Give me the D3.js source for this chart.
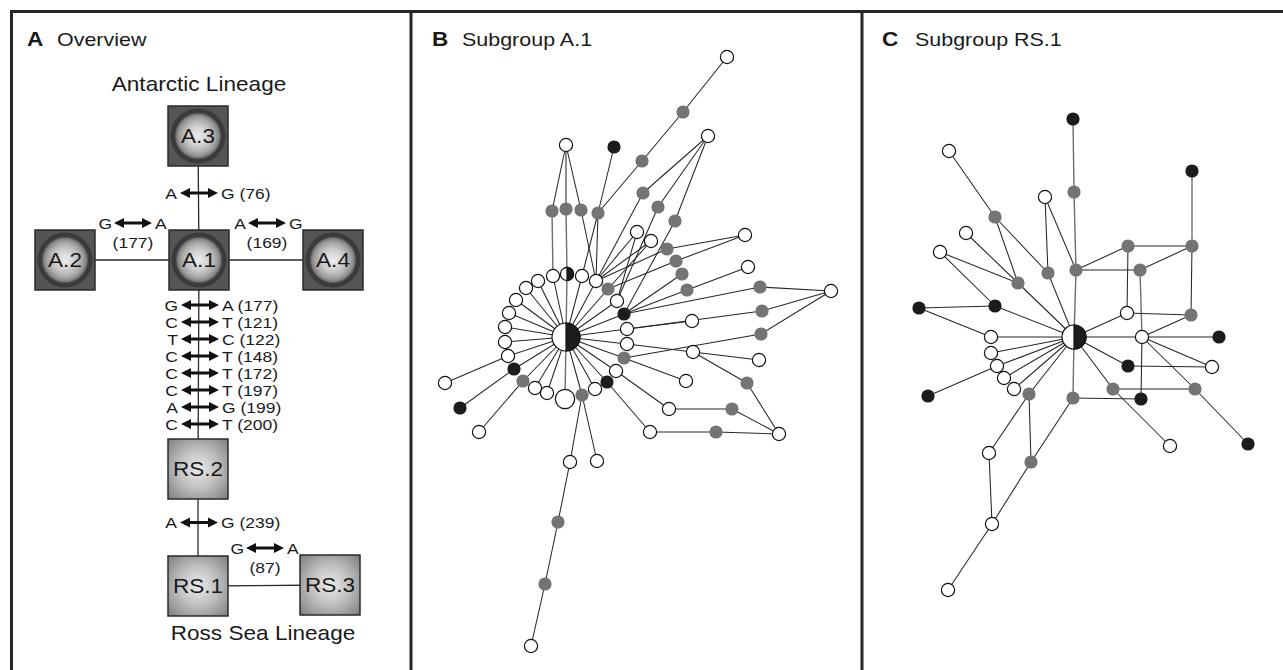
<!DOCTYPE html>
<html>
<head>
<meta charset="utf-8">
<script src="https://cdn.jsdelivr.net/npm/d3@7"></script>
<style>
  body { margin: 0; background: #fff; }
  svg { display: block; font-family: "Liberation Sans", Arial, sans-serif; }
</style>
</head>
<body>
<svg id="fig" width="1283" height="670"></svg>
<script>
// ---- panel A : overview (positions relative to A.1) ----
const overviewNodes = [
  ["A.3", -1, -124, "ring"],
  ["A.2", -134, 0, "ring"],
  ["A.1", 0, 0, "ring"],
  ["A.4", 134, 0, "ring"],
  ["RS.2", -1, 209, "grad"],
  ["RS.1", -1, 326, "grad"],
  ["RS.3", 131, 325, "grad"]
];
const mutA3A1 = [["A", "G", "76"]];
const mutA2A1 = [["G", "A", "177"]];
const mutA1A4 = [["A", "G", "169"]];
const mutA1RS2 = [["G", "A", "177"], ["C", "T", "121"], ["T", "C", "122"], ["C", "T", "148"],
                  ["C", "T", "172"], ["C", "T", "197"], ["A", "G", "199"], ["C", "T", "200"]];
const mutRS2RS1 = [["A", "G", "239"]];
const mutRS1RS3 = [["G", "A", "87"]];
const overviewLinks = [
  ["A.3", "A.1", mutA3A1],
  ["A.2", "A.1", mutA2A1],
  ["A.1", "A.4", mutA1A4],
  ["A.1", "RS.2", mutA1RS2],
  ["RS.2", "RS.1", mutRS2RS1],
  ["RS.1", "RS.3", mutRS1RS3]
];

// ---- panel B : subgroup A.1 (offsets from the central haplotype) ----
// [id, dx, dy, kind, count]  kind: w white, g grey, b black, h half
const bNodes = [
  ["c", 0, 0, "h", 4],
  ["R1", -13, -61, "w"], ["R2", 1, -63, "h"], ["R3", 16, -61, "w"], ["R4", 30, -56, "w"],
  ["R5", 42, -48, "g"], ["R6", 51, -36, "w"], ["R7", 58, -23, "b"], ["R8", 61, -8, "w"],
  ["R9", 61, 7, "w"], ["R10", 58, 21, "g"], ["R11", 50, 34, "w"], ["R12", 41, 45, "b"],
  ["R13", 29, 52, "w"], ["R14", 16, 58, "g"], ["R15", -1, 62, "w", 2], ["R16", -19, 56, "w"],
  ["R17", -31, 51, "w"], ["R18", -43, 44, "g"], ["R19", -52, 32, "b"], ["R20", -58, 19, "w"],
  ["R21", -61, 5, "w"], ["R22", -61, -10, "w"], ["R23", -57, -24, "w"], ["R24", -50, -37, "w"],
  ["R25", -40, -49, "w"], ["R26", -28, -56, "w"],
  ["O1", -121, 46, "w"], ["O2", -106, 71, "b"], ["O3", -87, 95, "w"], ["O4", 4, 125, "w"],
  ["O5", 31, 124, "w"], ["O6", -8, 185, "g"], ["O7", -21, 247, "g"], ["O8", -35, 309, "w"],
  ["T1", 0, -192, "w"], ["T2", -14, -126, "g"], ["T3", 0, -128, "g"], ["T4", 15, -127, "g"],
  ["T5", 32, -124, "g"], ["T6", 48, -190, "b"], ["T7", 76, -176, "g"], ["T8", 117, -225, "g"],
  ["T9", 161, -280, "w"], ["T10", 142, -201, "w"], ["T11", 77, -144, "g"], ["T12", 92, -130, "g"],
  ["T13", 109, -116, "g"],
  ["U1", 71, -105, "w"], ["U2", 85, -96, "w"], ["U3", 101, -88, "g"], ["U4", 110, -76, "g"],
  ["U5", 116, -63, "g"], ["U6", 121, -47, "g"], ["U7", 179, -102, "w"], ["U8", 182, -70, "w"],
  ["U9", 194, -50, "g"], ["U10", 265, -46, "w"], ["U11", 196, -26, "g"], ["U12", 195, -3, "g"],
  ["U13", 126, -16, "w"], ["U14", 127, 15, "w"], ["U15", 193, 23, "w"], ["U16", 181, 46, "g"],
  ["U17", 120, 44, "w"], ["U18", 103, 72, "w"], ["U19", 166, 72, "g"], ["U20", 84, 95, "w"],
  ["U21", 150, 95, "g"], ["U22", 213, 97, "w"]
];
const bRing = ["R1", "R2", "R3", "R4", "R5", "R6", "R7", "R8", "R9", "R10", "R11", "R12", "R13",
               "R14", "R15", "R16", "R17", "R18", "R19", "R20", "R21", "R22", "R23", "R24", "R25", "R26"];
const bLinks = [
  ["R20", "O1"], ["R19", "O2"], ["R18", "O3"], ["R14", "O4"], ["R14", "O5"], ["O4", "O6"],
  ["O6", "O7"], ["O7", "O8"],
  ["T1", "T2"], ["T1", "T3"], ["T1", "T4"], ["T2", "R1"], ["T3", "R2"], ["T4", "R4"],
  ["T5", "R4"], ["T5", "R3"], ["T6", "T5"], ["T5", "T7"], ["T7", "T8"], ["T8", "T9"],
  ["T10", "T11"], ["T10", "T12"], ["T10", "T13"], ["T11", "R4"], ["T12", "R6"], ["T13", "R7"],
  ["U1", "R4"], ["U1", "R6"], ["U2", "R4"], ["U2", "R5"],
  ["U3", "R4"], ["U3", "U7"], ["U4", "R5"], ["U4", "U7"], ["U5", "R7"], ["U6", "R7"], ["U6", "U8"],
  ["U9", "R7"], ["U9", "U10"], ["U11", "R8"], ["U11", "U10"], ["U13", "R8"], ["U12", "R10"],
  ["U12", "U10"], ["U14", "R9"], ["U14", "U15"], ["U14", "U16"], ["U16", "U22"], ["U17", "R10"],
  ["U18", "R11"], ["U18", "U19"], ["U19", "U22"], ["U20", "R12"], ["U20", "U21"], ["U21", "U22"]
];

// ---- panel C : subgroup RS.1 ----
const cNodes = [
  ["c", 0, 0, "h", 3],
  ["C1", -1, -218, "b"], ["C2", 0, -145, "g"], ["C3", 2, -67, "g"], ["C4", 54, -91, "g"],
  ["C5", 118, -91, "g"], ["C6", 118, -166, "b"], ["C7", 66, -67, "g"], ["C8", 53, -24, "w"],
  ["C9", 117, -22, "g"], ["C10", 68, 0, "w"], ["C11", 145, 0, "b"], ["C12", 54, 29, "b"],
  ["C13", 138, 30, "w"], ["C14", 39, 52, "g"], ["C15", 121, 52, "g"], ["C16", 67, 62, "b"],
  ["C17", -1, 61, "g"], ["C18", 96, 109, "w"], ["C19", 174, 107, "b"], ["C20", -29, -140, "w"],
  ["C21", -26, -64, "g"], ["C22", -125, -186, "w"], ["C23", -79, -120, "g"], ["C24", -108, -104, "w"],
  ["C25", -134, -85, "w"], ["C26", -56, -54, "g"], ["C27", -79, -31, "b"], ["C28", -155, -29, "b"],
  ["C29", -83, 0, "w"], ["C30", -83, 16, "w"], ["C31", -77, 29, "w"], ["C32", -70, 41, "w"],
  ["C33", -60, 52, "w"], ["C34", -45, 57, "g"], ["C35", -146, 59, "b"], ["C36", -85, 116, "w"],
  ["C37", -43, 125, "g"], ["C38", -82, 187, "w"], ["C39", -126, 253, "w"]
];
const cLinks = [
  ["c", "C3"], ["C3", "C2"], ["C2", "C1"], ["C3", "C7"], ["C3", "C4"], ["C3", "C20"],
  ["C4", "C5"], ["C4", "C8"], ["C7", "C5"], ["C7", "C10"], ["C5", "C6"], ["C5", "C9"],
  ["C8", "C9"], ["C8", "c"], ["C9", "C10"], ["c", "C10"], ["C10", "C11"], ["C10", "C13"],
  ["C10", "C15"], ["C10", "C16"], ["c", "C12"], ["C12", "C13"], ["c", "C14"], ["C14", "C15"],
  ["C14", "C18"], ["C15", "C19"], ["c", "C17"], ["C17", "C16"], ["C17", "C37"], ["C37", "C34"],
  ["C37", "C38"], ["C34", "c"], ["C34", "C36"], ["C36", "C38"], ["C38", "C39"],
  ["C20", "C21"], ["C21", "c"], ["C22", "C23"], ["C23", "C26"], ["C23", "C21"], ["C24", "C26"],
  ["C25", "C26"], ["C25", "C27"], ["C26", "c"], ["C27", "C28"], ["C27", "c"], ["C28", "C29"],
  ["C29", "c"], ["C30", "c"], ["C31", "c"], ["C32", "c"], ["C33", "c"], ["C35", "C31"]
];

const panelTitles = [["A", "Overview"], ["B", "Subgroup A.1"], ["C", "Subgroup RS.1"]];

// ------------------------------------------------------------------
const svg = d3.select("#fig");
const SX = 1.13; // the source lettering is a little wider than Arial
const defs = svg.append("defs");

const ringGrad = defs.append("radialGradient").attr("id", "ringGrad");
[[0, "#ececec"], [0.3, "#d6d6d6"], [0.5, "#bcbcbc"], [0.66, "#a0a0a0"], [0.76, "#858585"],
 [0.82, "#5e5e5e"], [0.85, "#3c3c3c"], [1, "#3a3a3a"]].forEach(([o, c]) =>
  ringGrad.append("stop").attr("offset", o).attr("stop-color", c));

const rsGrad = defs.append("radialGradient").attr("id", "rsGrad").attr("r", "72%");
[[0, "#ebebeb"], [0.45, "#c0c0c0"], [1, "#7a7a7a"]].forEach(([o, c]) =>
  rsGrad.append("stop").attr("offset", o).attr("stop-color", c));

function label(g, x, y, str, size, anchor, weight) {
  g.append("text")
    .attr("transform", `translate(${x},${y}) scale(${SX},1)`)
    .attr("text-anchor", anchor || "start")
    .attr("font-size", size)
    .attr("font-weight", weight || "normal")
    .attr("fill", "#1a1a1a")
    .text(str);
}

function arrow(g, x1, x2, y) {
  const h = 10, w = 5;
  g.append("line").attr("x1", x1 + h - 1).attr("x2", x2 - h + 1).attr("y1", y).attr("y2", y)
    .attr("stroke", "#111").attr("stroke-width", 3);
  g.append("path")
    .attr("d", `M${x1},${y}L${x1 + h},${y - w}L${x1 + h},${y + w}Z M${x2},${y}L${x2 - h},${y - w}L${x2 - h},${y + w}Z`)
    .attr("fill", "#111");
}

// frame
const frame = svg.append("g").attr("stroke", "#262626").attr("stroke-width", 3).attr("fill", "none");
frame.append("path").attr("d", "M11.5,670V11.5H1283");
[411, 862].forEach(x => frame.append("line").attr("x1", x).attr("x2", x).attr("y1", 11).attr("y2", 670));

// titles
const titleX = [[27, 57], [432, 462], [882, 915]];
panelTitles.forEach(([letter, name], i) => {
  label(svg, titleX[i][0], 46, letter, 20, "start", "bold");
  label(svg, titleX[i][1], 46, name, 19);
});

// ---- panel A ----
const xA = d3.scaleLinear().domain([-200, 200]).range([-1, 399]);
const yA = d3.scaleLinear().domain([-250, 400]).range([10, 660]);
const gA = svg.append("g");
const byA = new Map(overviewNodes.map(d => [d[0], { x: xA(d[1]), y: yA(d[2]), kind: d[3] }]));

overviewLinks.forEach(([s, t]) => {
  const a = byA.get(s), b = byA.get(t);
  gA.append("line").attr("x1", a.x).attr("y1", a.y).attr("x2", b.x).attr("y2", b.y)
    .attr("stroke", "#2a2a2a").attr("stroke-width", 1.3);
});

overviewLinks.forEach(([s, t, muts]) => {
  const a = byA.get(s), b = byA.get(t);
  if (Math.abs(a.x - b.x) < 5) {
    const x = a.x, mid = (a.y + b.y) / 2 + (muts.length === 1 ? -5 : 0);
    muts.forEach(([f, to, pos], i) => {
      const y = mid + (i - (muts.length - 1) / 2) * 17;
      label(gA, x - 21, y + 5.5, f, 15.5, "end");
      arrow(gA, x - 18, x + 20, y);
      label(gA, x + 23, y + 5.5, `${to} (${pos})`, 15.5);
    });
  } else {
    const cx = (a.x + b.x) / 2 + 1, y = Math.min(a.y, b.y);
    muts.forEach(([f, to, pos]) => {
      label(gA, cx - 21, y - 37 + 5.5, f, 15.5, "end");
      arrow(gA, cx - 19, cx + 19, y - 37);
      label(gA, cx + 22, y - 37 + 5.5, to, 15.5);
      label(gA, cx, y - 18 + 5.5, `(${pos})`, 15.5, "middle");
    });
  }
});

overviewNodes.forEach(([id]) => {
  const n = byA.get(id);
  const g = gA.append("g").attr("transform", `translate(${n.x},${n.y})`);
  if (n.kind === "ring") {
    g.append("rect").attr("x", -30).attr("y", -30).attr("width", 60).attr("height", 60)
      .attr("fill", "#555555").attr("stroke", "#2a2a2a").attr("stroke-width", 1.5);
    g.append("circle").attr("r", 27.5).attr("fill", "url(#ringGrad)");
  } else {
    g.append("rect").attr("x", -30).attr("y", -30).attr("width", 60).attr("height", 60)
      .attr("fill", "url(#rsGrad)").attr("stroke", "#2a2a2a").attr("stroke-width", 1.5);
  }
  label(g, 0, 7, id, 20, "middle");
});

label(gA, xA(0), 91, "Antarctic Lineage", 20, "middle");
label(gA, xA(64), 640, "Ross Sea Lineage", 20, "middle");

// ---- network panels ----
const rScale = d3.scaleSqrt().domain([1, 4]).range([6.6, 14]);
const fills = { w: "#ffffff", g: "#747474", b: "#1c1c1c", h: "#ffffff" };
const greyEdges = new Set(["T3|R2", "c|R2", "c|R15", "T2|R1", "C3|C2", "C2|C1", "c|C3", "C5|C6", "C7|C10", "c|C17"]);

function network(nodes, links, cx, cy, extraLinks) {
  const x = d3.scaleLinear().domain([-200, 300]).range([cx - 200, cx + 300]);
  const y = d3.scaleLinear().domain([-300, 320]).range([cy - 300, cy + 320]);
  const pos = new Map(nodes.map(d => [d[0], { x: x(d[1]), y: y(d[2]), kind: d[3], r: rScale(d[4] || 1) }]));
  const g = svg.append("g");
  links.concat(extraLinks).forEach(([s, t]) => {
    const a = pos.get(s), b = pos.get(t);
    const grey = greyEdges.has(`${s}|${t}`) || greyEdges.has(`${t}|${s}`);
    g.append("line").attr("x1", a.x).attr("y1", a.y).attr("x2", b.x).attr("y2", b.y)
      .attr("stroke", grey ? "#6e6e6e" : "#262626").attr("stroke-width", grey ? 1.4 : 1.05);
  });
  nodes.forEach(([id]) => {
    const n = pos.get(id);
    const c = g.append("circle").attr("cx", n.x).attr("cy", n.y).attr("r", n.r).attr("fill", fills[n.kind]);
    if (n.kind === "w" || n.kind === "h") c.attr("stroke", "#111").attr("stroke-width", 1.2);
    if (n.kind === "h") {
      g.append("path")
        .attr("d", `M${n.x},${n.y - n.r}A${n.r},${n.r} 0 0 1 ${n.x},${n.y + n.r}Z`)
        .attr("fill", "#1c1c1c").attr("stroke", "#111").attr("stroke-width", 1.2);
    }
  });
}

network(bNodes, bLinks, 566, 337, bRing.map(r => ["c", r]));
network(cNodes, cLinks, 1074, 337, []);
</script>
</body>
</html>
